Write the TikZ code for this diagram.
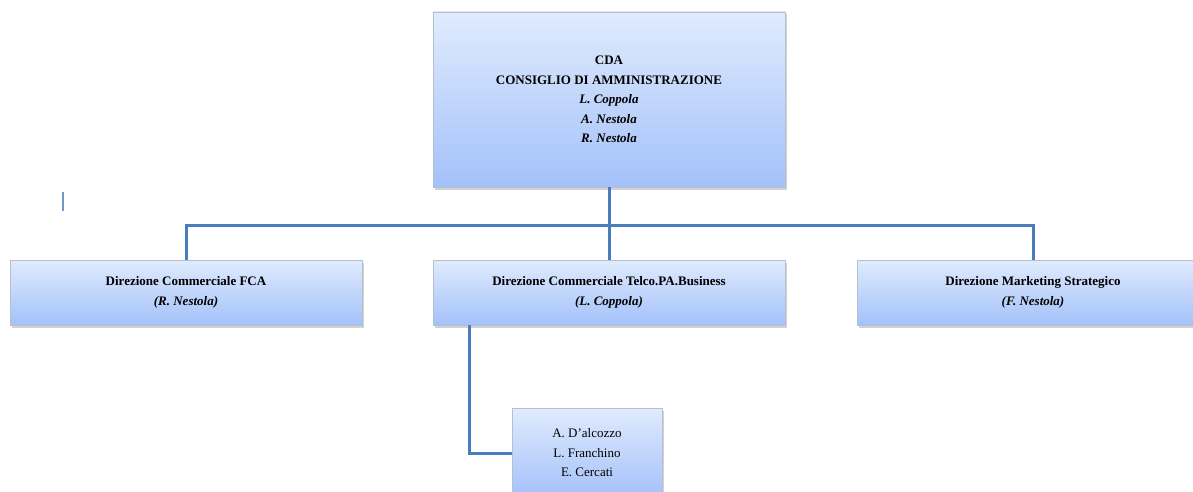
\documentclass[tikz,border=0pt]{standalone}
\usepackage{fontspec}
\setmainfont{Liberation Serif}
\usetikzlibrary{positioning, shadows, calc}
\definecolor{boxtop}{HTML}{E0EBFD}
\definecolor{boxbottom}{HTML}{A3C1FA}
\definecolor{boxedge}{HTML}{B4BFCF}
\definecolor{linkblue}{HTML}{4A7EBB}
\tikzset{
	orgbox/.style={
			rectangle, draw=boxedge, line width=0.6pt,
			top color=boxtop, bottom color=boxbottom,
			drop shadow={shadow xshift=1.5pt, shadow yshift=-2.5pt, opacity=0.35},
			align=center, inner sep=2pt
		}
}
\tikzset{
	orglink/.style={draw=linkblue, line width=3pt}
}
\tikzset{
	boxtext/.style={font=\fontsize{13}{19.5}\selectfont}
}

\begin{document}
\begin{tikzpicture}[x=1pt, y=-1pt]

			\clip (0,0) rectangle (1193,492);
			\fill[white] (0,0) rectangle (1193,492);

			\begin{scope}
				\node[orgbox, boxtext, minimum width=352pt, minimum height=175pt] (cda) at (609,99.5)
				{\textbf{CDA}\\
					\textbf{CONSIGLIO DI AMMINISTRAZIONE}\\
					\textbf{\textit{L. Coppola}}\\
					\textbf{\textit{A. Nestola}}\\
					\textbf{\textit{R. Nestola}}};
			\end{scope}

			\begin{scope}
				\node[orgbox, boxtext, minimum width=352pt, minimum height=65pt] (fca) at (186,292.5)
				{\textbf{Direzione Commerciale FCA}\\ \textbf{\textit{(R. Nestola)}}};
				\node[orgbox, boxtext, minimum width=352pt, minimum height=65pt] (telco) at (609,292.5)
				{\textbf{Direzione Commerciale Telco.PA.Business}\\ \textbf{\textit{(L. Coppola)}}};
				\node[orgbox, boxtext, minimum width=352pt, minimum height=65pt] (mkt) at (1033,292.5)
				{\textbf{Direzione Marketing Strategico}\\ \textbf{\textit{(F. Nestola)}}};
			\end{scope}

			\node[orgbox, boxtext, minimum width=150pt, minimum height=90pt] (team) at (587,453)
			{A. D'alcozzo\\ L. Franchino\\ E. Cercati};

			\coordinate (bus) at (609,225);

			\draw[orglink] (cda.south) -- (bus);
			\draw[orglink] (fca.north) |- (bus) -| (mkt.north);
			\draw[orglink] (bus) -- (telco.north);
			\draw[orglink] ([xshift=37pt]telco.south west) |- (team.west);

			% stray mark on the left
			\draw[draw=linkblue!80, line width=2pt] (63,192) -- (63,211);

		\end{tikzpicture}
\end{document}
